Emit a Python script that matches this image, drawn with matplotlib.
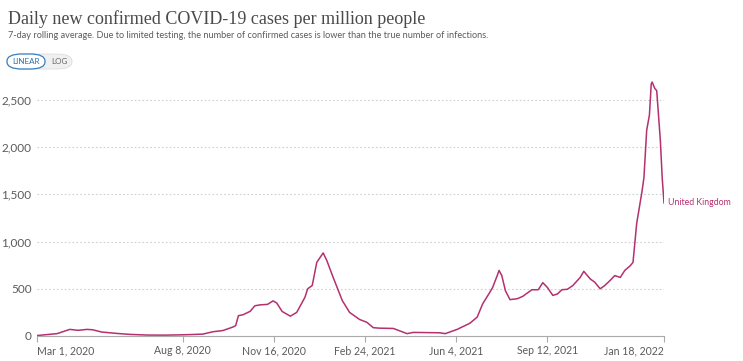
import matplotlib

matplotlib.use("Agg")
import matplotlib.pyplot as plt
from matplotlib.patches import FancyBboxPatch
import numpy as np

# 7-day rolling average, confirmed cases per million, United Kingdom
dates = [
    "2020-03-01", "2020-03-23", "2020-04-06", "2020-04-15", "2020-04-25",
    "2020-05-01", "2020-05-11", "2020-05-28", "2020-06-11", "2020-06-30",
    "2020-07-19", "2020-08-05", "2020-08-16", "2020-08-30", "2020-09-10",
    "2020-09-21", "2020-10-02", "2020-10-05", "2020-10-08", "2020-10-13",
    "2020-10-21", "2020-10-26", "2020-11-01", "2020-11-09", "2020-11-15",
    "2020-11-19", "2020-11-25", "2020-12-04", "2020-12-11", "2020-12-20",
    "2020-12-23", "2020-12-28", "2021-01-02", "2021-01-09", "2021-01-13",
    "2021-01-20", "2021-01-30", "2021-02-07", "2021-02-18", "2021-02-26",
    "2021-03-05", "2021-03-12", "2021-03-27", "2021-04-07", "2021-04-11",
    "2021-04-18", "2021-05-17", "2021-05-23", "2021-06-05", "2021-06-19",
    "2021-06-27", "2021-07-03", "2021-07-11", "2021-07-14", "2021-07-19",
    "2021-07-21", "2021-07-24", "2021-07-28", "2021-08-02", "2021-08-10",
    "2021-08-16", "2021-08-26", "2021-09-02", "2021-09-07", "2021-09-12",
    "2021-09-18", "2021-09-23", "2021-09-28", "2021-10-04", "2021-10-10",
    "2021-10-18", "2021-10-22", "2021-10-29", "2021-11-03", "2021-11-09",
    "2021-11-14", "2021-11-20", "2021-11-25", "2021-12-01", "2021-12-06",
    "2021-12-12", "2021-12-15", "2021-12-19", "2021-12-25", "2021-12-27",
    "2021-12-30", "2022-01-02", "2022-01-04", "2022-01-05", "2022-01-08",
    "2022-01-10", "2022-01-14", "2022-01-16", "2022-01-18",
]
cases = [
    5, 25, 70, 60, 70,
    66, 42, 27, 17, 10,
    9, 12, 15, 20, 45,
    58, 95, 110, 215, 225,
    262, 320, 330, 335, 372,
    350, 260, 210, 250, 410,
    500, 535, 780, 880, 800,
    620, 375, 250, 175, 145,
    88, 83, 80, 40, 25,
    38, 34, 25, 70, 135,
    200, 340, 465, 515, 640,
    695, 640, 480, 385, 395,
    420, 490, 490, 565, 515,
    430, 445, 490, 495, 535,
    620, 685, 605, 570, 500,
    535, 590, 640, 620, 695,
    745, 780, 1190, 1540, 1680,
    2180, 2340, 2670, 2690, 2620,
    2600, 2070, 1680, 1410,
]
tick_dates = ["2020-03-01", "2020-08-08", "2020-11-16", "2021-02-24",
              "2021-06-04", "2021-09-12", "2022-01-18"]
tick_labels = ["Mar 1, 2020", "Aug 8, 2020", "Nov 16, 2020", "Feb 24, 2021",
               "Jun 4, 2021", "Sep 12, 2021", "Jan 18, 2022"]
y_ticks = [0, 500, 1000, 1500, 2000, 2500]
country = "United Kingdom"

line_color = "#B4306F"
text_grey = "#5b5b5b"

x = np.array(dates, dtype="datetime64[D]")
xt = np.array(tick_dates, dtype="datetime64[D]")

plt.rcParams["font.family"] = ["Lato", "DejaVu Sans"]

fig = plt.figure(figsize=(7.43, 3.61), dpi=100)
ax = fig.add_axes([37 / 743, 1 - 336 / 361, 627 / 743, 259.6 / 361])

ax.plot(x, cases, color=line_color, lw=1.1, solid_joinstyle="round")
ax.set_xlim(xt[0], xt[-1])
ax.set_ylim(0, 2750)

ax.set_yticks(y_ticks)
ax.set_yticklabels([f"{v:,}" for v in y_ticks])
ax.yaxis.grid(True, ls=(0, (1.5, 2)), color="#cfcfcf", lw=0.8)
ax.tick_params(axis="y", length=0, labelsize=8.5, labelcolor=text_grey, pad=4)

ax.set_xticks(xt)
ax.set_xticklabels(tick_labels)
ax.tick_params(axis="x", length=4, color="#aaaaaa", labelsize=7.6,
               labelcolor=text_grey, pad=2.5)
labels = ax.get_xticklabels()
labels[0].set_ha("left")
labels[-1].set_ha("right")

for s in ["top", "right", "left"]:
    ax.spines[s].set_visible(False)
ax.spines["bottom"].set_color("#aaaaaa")
ax.set_axisbelow(True)

ax.annotate(country, xy=(x[-1], cases[-1]), xytext=(3, 0),
            textcoords="offset points", va="center", ha="left",
            fontsize=6.3, color=line_color, annotation_clip=False)

# header
fig.text(8 / 743, 1 - 19 / 361, "Daily new confirmed COVID-19 cases per million people",
         family=["Liberation Serif", "DejaVu Serif"], fontsize=13,
         color="#4a4a4a", va="center")
fig.text(8 / 743, 1 - 35 / 361,
         "7-day rolling average. Due to limited testing, the number of confirmed "
         "cases is lower than the true number of infections.",
         fontsize=6.6, color=text_grey, va="center")

# LINEAR / LOG toggle
toggle = FancyBboxPatch((7 / 743, 1 - 69 / 361), 65 / 743, 15 / 361,
                        boxstyle="round,pad=0,rounding_size=0.02",
                        transform=fig.transFigure, fc="#f0f0f0",
                        ec="#dddddd", lw=0.6)
fig.patches.append(toggle)
active = FancyBboxPatch((7 / 743, 1 - 69 / 361), 38 / 743, 15 / 361,
                        boxstyle="round,pad=0,rounding_size=0.02",
                        transform=fig.transFigure, fc="white",
                        ec="#3a7ebf", lw=0.9)
fig.patches.append(active)
fig.text(26 / 743, 1 - 61.5 / 361, "LINEAR", fontsize=5.8, color="#2d6ea8",
         ha="center", va="center")
fig.text(59 / 743, 1 - 61.5 / 361, "LOG", fontsize=5.8, color="#666666",
         ha="center", va="center")

fig.savefig("out.png", dpi=100)
